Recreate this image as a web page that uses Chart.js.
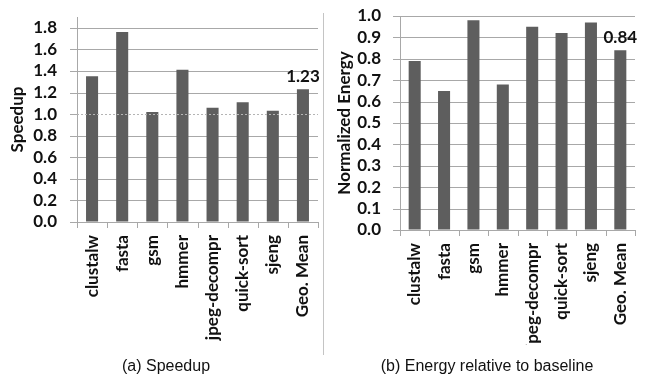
<!DOCTYPE html>
<html>
<head>
<meta charset="utf-8">
<script src="https://cdn.jsdelivr.net/npm/chart.js@4/dist/chart.umd.min.js"></script>
<style>
  html, body { margin: 0; padding: 0; background: #fff; }
  #wrap { position: relative; width: 645px; height: 377px; overflow: hidden; background: #fff; }
  .panel { position: absolute; top: 0; height: 377px; }
  #left { left: 0; width: 323px; }
  #right { left: 323px; width: 322px; }
  .sep { position: absolute; left: 323px; top: 13px; width: 1px; height: 342px; background: #c4c4c4; z-index: 2; }
  .cap { position: absolute; top: 357px; font: 16px "Liberation Sans", Arial, sans-serif; color: #111; text-align: center; z-index: 3; }
</style>
</head>
<body>
<div id="wrap">
  <div class="panel" id="left"><canvas id="c1" width="323" height="377"></canvas></div>
  <div class="sep"></div>
  <div class="panel" id="right"><canvas id="c2" width="322" height="377"></canvas></div>
  <div class="cap" style="left:0;width:332px;">(a) Speedup</div>
  <div class="cap" style="left:323px;width:328px;">(b) Energy relative to baseline</div>
</div>
<script>
// Benchmarks and measured results
const categories = ['clustalw', 'fasta', 'gsm', 'hmmer', 'jpeg-decompr', 'quick-sort', 'sjeng', 'Geo. Mean'];
const speedup = [1.35, 1.76, 1.02, 1.41, 1.06, 1.11, 1.03, 1.23];
const energy = [0.79, 0.65, 0.98, 0.68, 0.95, 0.92, 0.97, 0.84];
const speedupTicks = [0, 0.2, 0.4, 0.6, 0.8, 1.0, 1.2, 1.4, 1.6, 1.8];
const energyTicks = [0, 0.1, 0.2, 0.3, 0.4, 0.5, 0.6, 0.7, 0.8, 0.9, 1.0];

const BAR = '#5e5e5e';
const GRID = '#a8a8a8';
const FONT = 'Lato, "Open Sans", sans-serif';
const FS = 17;

// Gridlines, axis lines and tick marks, placed with the chart's scales and
// composited underneath the bars that are already drawn
const axisFrame = {
  id: 'axisFrame',
  afterDatasetsDraw(chart, args, opts) {
    const a = chart.chartArea;
    const xs = chart.scales.x, ys = chart.scales.y;
    const ctx = chart.ctx;
    const px = v => Math.round(v) + 0.5;
    const tickVals = Array.from(opts.ticks || []);
    ctx.save();
    ctx.globalCompositeOperation = 'destination-over';
    ctx.strokeStyle = GRID;
    ctx.lineWidth = 1;
    ctx.setLineDash([]);
    ctx.beginPath();
    tickVals.forEach(v => {
      const y = px(ys.getPixelForValue(v));
      const skip = opts.skip !== undefined && opts.skip !== null && Math.abs(v - opts.skip) < 1e-9;
      ctx.moveTo(a.left - 7, y);
      ctx.lineTo(skip ? a.left : a.right, y);
    });
    // y axis line
    ctx.moveTo(px(a.left), a.top);
    ctx.lineTo(px(a.left), a.bottom);
    // category boundary ticks below the x axis
    const n = chart.data.labels.length;
    for (let i = 0; i <= n; i++) {
      let x;
      if (i === 0) x = a.left;
      else if (i === n) x = a.right;
      else x = (xs.getPixelForValue(i - 1) + xs.getPixelForValue(i)) / 2;
      ctx.moveTo(px(x), a.bottom);
      ctx.lineTo(px(x), a.bottom + 6);
    }
    ctx.stroke();
    ctx.restore();
  }
};

// Dotted reference line at speedup = 1.0, drawn over the bars
const baseline = {
  id: 'baseline',
  afterDatasetsDraw(chart, args, opts) {
    if (opts.value === undefined || opts.value === null) return;
    const y = Math.round(chart.scales.y.getPixelForValue(opts.value)) + 0.5;
    const a = chart.chartArea;
    const ctx = chart.ctx;
    ctx.save();
    ctx.strokeStyle = '#b4b4b4';
    ctx.lineWidth = 1;
    ctx.setLineDash([2, 2]);
    ctx.beginPath();
    ctx.moveTo(a.left, y);
    ctx.lineTo(a.right, y);
    ctx.stroke();
    ctx.restore();
  }
};

// Value label above the geometric-mean bar
const meanLabel = {
  id: 'meanLabel',
  afterDatasetsDraw(chart) {
    const meta = chart.getDatasetMeta(0);
    const i = meta.data.length - 1;
    const bar = meta.data[i];
    const v = chart.data.datasets[0].data[i];
    const ctx = chart.ctx;
    ctx.save();
    ctx.font = 'bold ' + FS + 'px ' + FONT;
    ctx.fillStyle = '#111';
    ctx.textAlign = 'center';
    ctx.textBaseline = 'alphabetic';
    ctx.fillText(v.toFixed(2), bar.x, bar.y - 7);
    ctx.restore();
  }
};

const hiddenGrid = { display: true, drawOnChartArea: false, drawTicks: true, color: 'rgba(0,0,0,0)' };

function makeChart(id, values, tickVals, opt) {
  return new Chart(document.getElementById(id), {
    type: 'bar',
    data: {
      labels: categories,
      datasets: [{
        data: values,
        backgroundColor: BAR,
        borderWidth: 0,
        categoryPercentage: 1.0,
        barPercentage: opt.barPct
      }]
    },
    options: {
      responsive: false,
      animation: false,
      events: [],
      layout: { padding: { top: opt.padTop, right: opt.padRight, left: 0, bottom: 32 } },
      plugins: {
        legend: { display: false },
        tooltip: { enabled: false },
        axisFrame: { ticks: tickVals, skip: opt.refLine },
        baseline: { value: opt.refLine }
      },
      scales: {
        x: {
          afterFit(s) { s.height = opt.xHeight; s.paddingLeft = 0; s.paddingRight = 0; },
          grid: Object.assign({ tickLength: 6 }, hiddenGrid),
          border: { display: false },
          ticks: {
            minRotation: 90, maxRotation: 90, autoSkip: false, padding: 7,
            color: '#111', font: { family: FONT, size: FS, weight: 'bold' }
          }
        },
        y: {
          min: 0, max: opt.max,
          afterFit(s) { s.width = 77; s.paddingTop = 0; s.paddingBottom = 0; },
          afterBuildTicks(s) { s.ticks = tickVals.map(v => ({ value: v })); },
          grid: Object.assign({ tickLength: 7 }, hiddenGrid),
          border: { display: false },
          title: {
            display: true, text: opt.title, color: '#111',
            font: { family: FONT, size: FS, weight: 'bold' },
            padding: { top: opt.titlePad, bottom: 0 }
          },
          ticks: {
            autoSkip: false,
            padding: opt.tickPad,
            color: '#111',
            font: { family: FONT, size: FS, weight: 'bold' },
            callback: v => Number(v).toFixed(1)
          }
        }
      }
    },
    plugins: [axisFrame, baseline, meanLabel]
  });
}

makeChart('c1', speedup, speedupTicks, {
  max: 1.9, padTop: 17, padRight: 5, xHeight: 123, barPct: 0.4,
  title: 'Speedup', titlePad: 7, tickPad: 13, refLine: 1.0
});
makeChart('c2', energy, energyTicks, {
  max: 1.0, padTop: 16, padRight: 10, xHeight: 115, barPct: 0.41,
  title: 'Normalized Energy', titlePad: 11, tickPad: 12
});
</script>
</body>
</html>
